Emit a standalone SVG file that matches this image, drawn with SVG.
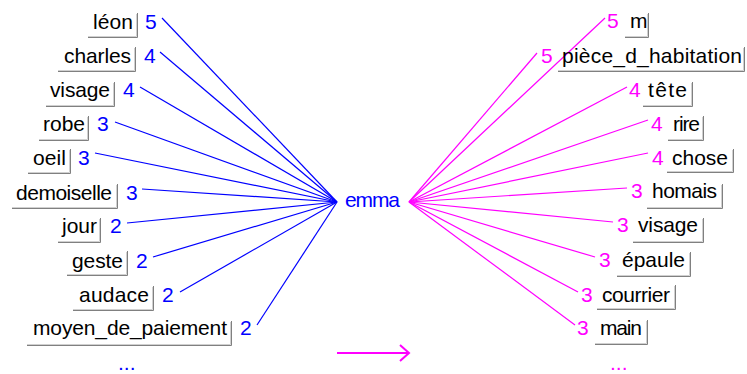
<svg xmlns="http://www.w3.org/2000/svg" width="747" height="374" viewBox="0 0 747 374">
<style>
  text { font-family: "Liberation Sans", Arial, sans-serif; font-size: 21px; }
  .lbl { fill: #000000; text-anchor: end; }
  .lblr { fill: #000000; }
  .nb { fill: #0000ff; }
  .nm { fill: #ff00ff; }
  .sh1 { fill: none; stroke: #808080; stroke-width: 1; }
  .sh2 { fill: none; stroke: #d0d0d0; stroke-width: 1; }
  .cb { stroke: #0000ff; stroke-width: 1.2; fill: none; }
  .cm { stroke: #ff00ff; stroke-width: 1.2; fill: none; }
</style>
<rect width="747" height="374" fill="#ffffff"/>

<g id="connectors">
  <g class="cb">
    <line x1="162" y1="18" x2="337" y2="202"/>
    <line x1="160" y1="52" x2="337" y2="202"/>
    <line x1="140" y1="87" x2="337" y2="202"/>
    <line x1="115" y1="122" x2="337" y2="202"/>
    <line x1="95" y1="153" x2="337" y2="202"/>
    <line x1="142" y1="189" x2="337" y2="202"/>
    <line x1="127" y1="223" x2="337" y2="202"/>
    <line x1="153" y1="257" x2="337" y2="202"/>
    <line x1="180" y1="292" x2="337" y2="202"/>
    <line x1="257" y1="325" x2="337" y2="202"/>
  </g>
  <g class="cm">
    <line x1="409" y1="202" x2="605" y2="18"/>
    <line x1="409" y1="202" x2="537" y2="53"/>
    <line x1="409" y1="202" x2="627" y2="87"/>
    <line x1="409" y1="202" x2="648" y2="120"/>
    <line x1="409" y1="202" x2="648" y2="153"/>
    <line x1="409" y1="202" x2="627" y2="188"/>
    <line x1="409" y1="202" x2="613" y2="222"/>
    <line x1="409" y1="202" x2="595" y2="257"/>
    <line x1="409" y1="202" x2="578" y2="292"/>
    <line x1="409" y1="202" x2="575" y2="325"/>
  </g>
</g>

<g id="emma">
  <text x="345" y="207" class="nb" textLength="55">emma</text>
</g>

<!-- left nodes -->
<g id="n-leon">
  <path class="sh2" d="M136.5 14 V36.5 H88"/>
  <path class="sh1" d="M137.5 13 V37.5 H88"/>
  <text x="133" y="29" class="lbl" textLength="40">léon</text>
  <text x="145" y="29" class="nb">5</text>
</g>
<g id="n-charles">
  <path class="sh2" d="M134.5 48 V70.5 H58"/>
  <path class="sh1" d="M135.5 47 V71.5 H58"/>
  <text x="131" y="63" class="lbl" textLength="67">charles</text>
  <text x="144" y="63" class="nb">4</text>
</g>
<g id="n-visage-l">
  <path class="sh2" d="M113.5 83 V105.5 H46"/>
  <path class="sh1" d="M114.5 82 V106.5 H46"/>
  <text x="110" y="97" class="lbl" textLength="60">visage</text>
  <text x="123" y="97" class="nb">4</text>
</g>
<g id="n-robe">
  <path class="sh2" d="M87.5 117 V139.5 H39"/>
  <path class="sh1" d="M88.5 116 V140.5 H39"/>
  <text x="85" y="131" class="lbl" textLength="42">robe</text>
  <text x="97" y="131" class="nb">3</text>
</g>
<g id="n-oeil">
  <path class="sh2" d="M69.5 150 V172.5 H28"/>
  <path class="sh1" d="M70.5 149 V173.5 H28"/>
  <text x="66" y="165" class="lbl" textLength="33">oeil</text>
  <text x="78" y="165" class="nb">3</text>
</g>
<g id="n-demoiselle">
  <path class="sh2" d="M116.5 185 V207.5 H12"/>
  <path class="sh1" d="M117.5 184 V208.5 H12"/>
  <text x="112" y="200" class="lbl" textLength="96">demoiselle</text>
  <text x="126" y="200" class="nb">3</text>
</g>
<g id="n-jour">
  <path class="sh2" d="M99.5 219 V241.5 H58"/>
  <path class="sh1" d="M100.5 218 V242.5 H58"/>
  <text x="97" y="233" class="lbl" textLength="35">jour</text>
  <text x="110" y="233" class="nb">2</text>
</g>
<g id="n-geste">
  <path class="sh2" d="M126.5 252 V274.5 H67"/>
  <path class="sh1" d="M127.5 251 V275.5 H67"/>
  <text x="123" y="268" class="lbl" textLength="51">geste</text>
  <text x="136" y="268" class="nb">2</text>
</g>
<g id="n-audace">
  <path class="sh2" d="M152.5 287 V309.5 H73"/>
  <path class="sh1" d="M153.5 286 V310.5 H73"/>
  <text x="149" y="302" class="lbl" textLength="70">audace</text>
  <text x="162" y="302" class="nb">2</text>
</g>
<g id="n-moyen">
  <path class="sh2" d="M230.5 322 V344.5 H27"/>
  <path class="sh1" d="M231.5 321 V345.5 H27"/>
  <text x="227" y="335" class="lbl" textLength="194">moyen_de_paiement</text>
  <text x="240" y="335" class="nb">2</text>
</g>
<g id="more-left">
  <text x="118" y="370" class="nb">...</text>
</g>

<!-- right nodes -->
<g id="n-m">
  <path class="sh2" d="M647.5 14 V36.5 H625"/>
  <path class="sh1" d="M648.5 13 V37.5 H625"/>
  <text x="630" y="28" class="lblr" textLength="16">m</text>
  <text x="607" y="28" class="nm">5</text>
</g>
<g id="n-piece">
  <path class="sh2" d="M743.5 48 V70.5 H558"/>
  <path class="sh1" d="M744.5 47 V71.5 H558"/>
  <text x="562" y="63" class="lblr" textLength="180">pièce_d_habitation</text>
  <text x="541" y="63" class="nm">5</text>
</g>
<g id="n-tete">
  <path class="sh2" d="M691.5 83 V105.5 H643"/>
  <path class="sh1" d="M692.5 82 V106.5 H643"/>
  <text x="648" y="97" class="lblr" textLength="39">tête</text>
  <text x="629" y="97" class="nm">4</text>
</g>
<g id="n-rire">
  <path class="sh2" d="M702.5 117 V139.5 H668"/>
  <path class="sh1" d="M703.5 116 V140.5 H668"/>
  <text x="673" y="131" class="lblr" textLength="27">rire</text>
  <text x="651" y="131" class="nm">4</text>
</g>
<g id="n-chose">
  <path class="sh2" d="M732.5 150 V171.5 H667"/>
  <path class="sh1" d="M733.5 149 V172.5 H667"/>
  <text x="672" y="165" class="lblr" textLength="56">chose</text>
  <text x="652" y="165" class="nm">4</text>
</g>
<g id="n-homais">
  <path class="sh2" d="M721.5 185 V207.5 H647"/>
  <path class="sh1" d="M722.5 184 V208.5 H647"/>
  <text x="652" y="198" class="lblr" textLength="65">homais</text>
  <text x="631" y="198" class="nm">3</text>
</g>
<g id="n-visage-r">
  <path class="sh2" d="M702.5 219 V241.5 H633"/>
  <path class="sh1" d="M703.5 218 V242.5 H633"/>
  <text x="638" y="232" class="lblr" textLength="60">visage</text>
  <text x="617" y="232" class="nm">3</text>
</g>
<g id="n-epaule">
  <path class="sh2" d="M689.5 253 V275.5 H617"/>
  <path class="sh1" d="M690.5 252 V276.5 H617"/>
  <text x="622" y="267" class="lblr" textLength="63">épaule</text>
  <text x="599" y="267" class="nm">3</text>
</g>
<g id="n-courrier">
  <path class="sh2" d="M674.5 286 V308.5 H597"/>
  <path class="sh1" d="M675.5 285 V309.5 H597"/>
  <text x="602" y="302" class="lblr" textLength="68">courrier</text>
  <text x="581" y="302" class="nm">3</text>
</g>
<g id="n-main">
  <path class="sh2" d="M646.5 321 V343.5 H595"/>
  <path class="sh1" d="M647.5 320 V344.5 H595"/>
  <text x="600" y="335" class="lblr" textLength="42">main</text>
  <text x="577" y="335" class="nm">3</text>
</g>
<g id="more-right">
  <text x="610" y="370" class="nm">...</text>
</g>

<g id="direction-arrow">
  <line x1="337" y1="353" x2="409" y2="353" stroke="#ff00ff" stroke-width="2"/>
  <polyline points="400,345 409,353 400,361" fill="none" stroke="#ff00ff" stroke-width="2"/>
</g>
</svg>
